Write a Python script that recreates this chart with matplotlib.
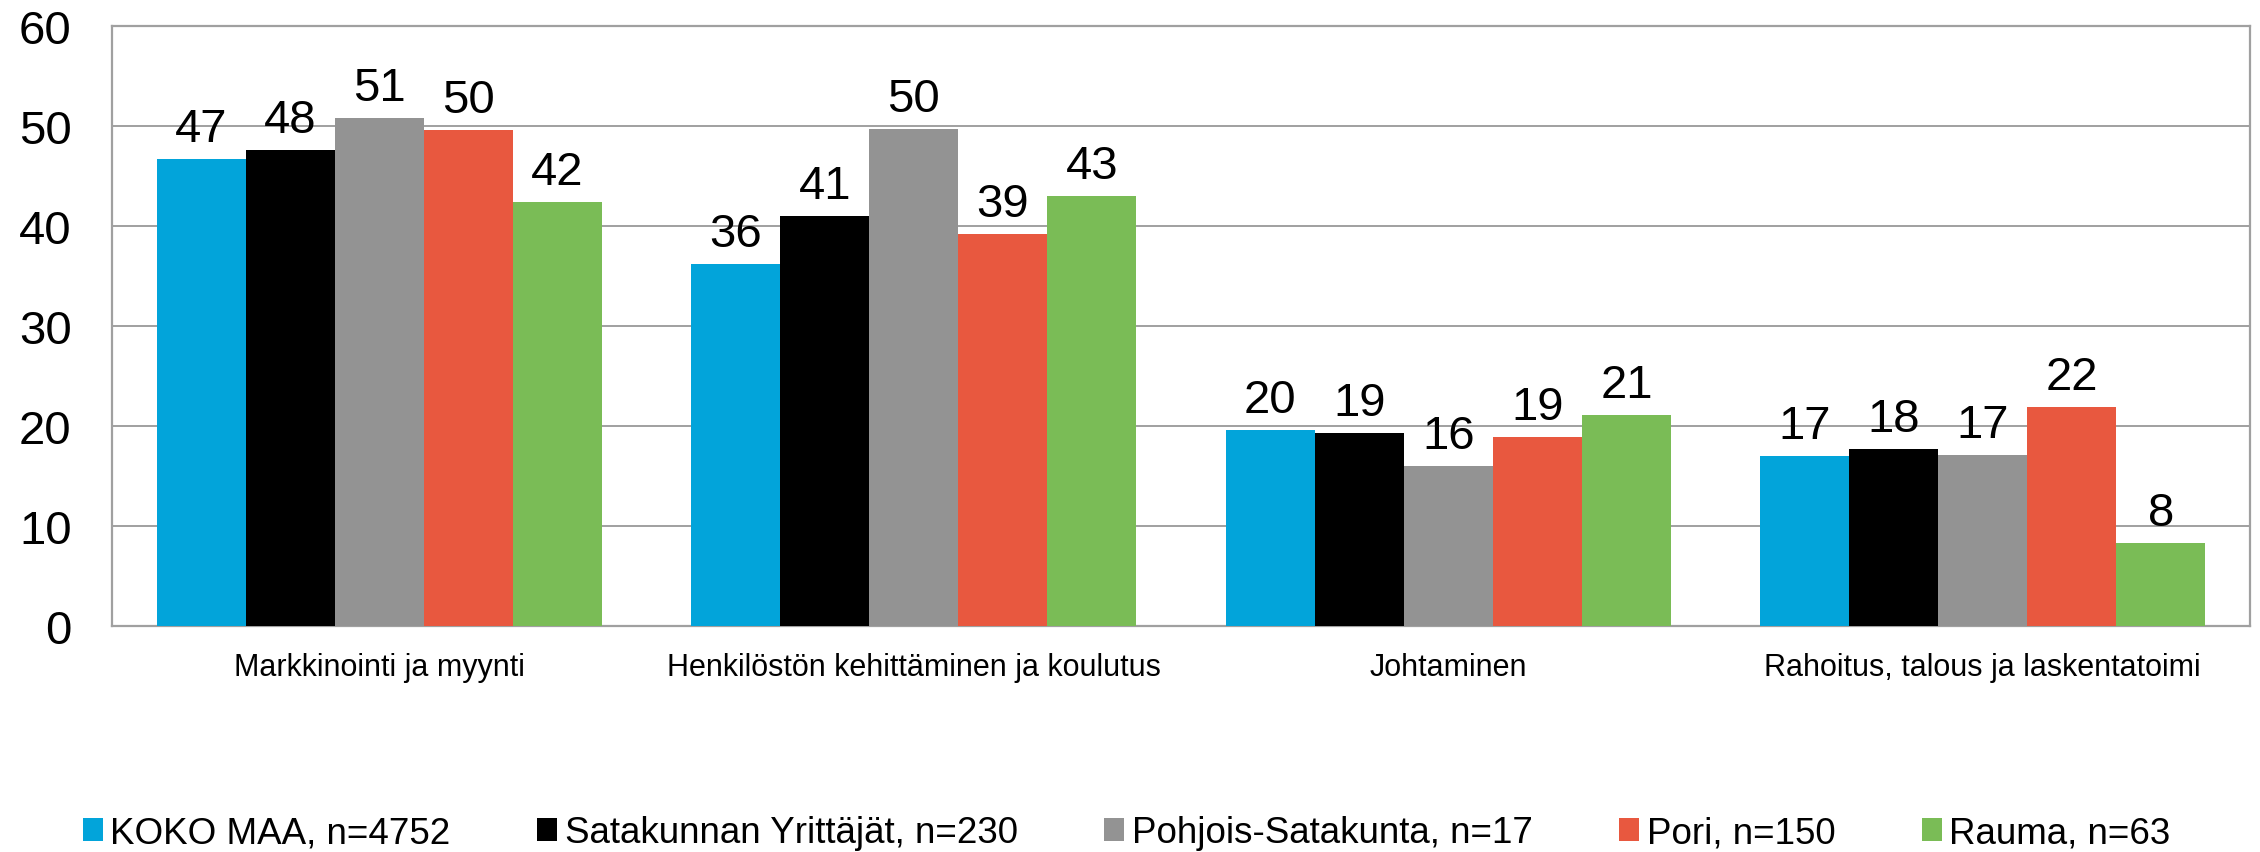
import matplotlib
matplotlib.use("Agg")
import matplotlib.pyplot as plt
import numpy as np
from matplotlib.patches import Patch

plt.rcParams["font.family"] = ["Liberation Sans", "DejaVu Sans"]

categories = [
    "Markkinointi ja myynti",
    "Henkilöstön kehittäminen ja koulutus",
    "Johtaminen",
    "Rahoitus, talous ja laskentatoimi",
]
series_names = [
    "KOKO MAA, n=4752",
    "Satakunnan Yrittäjät, n=230",
    "Pohjois-Satakunta, n=17",
    "Pori, n=150",
    "Rauma, n=63",
]
koko_maa = [46.7, 36.2, 19.6, 17.0]
satakunnan_yrittajat = [47.6, 41.0, 19.3, 17.7]
pohjois_satakunta = [50.8, 49.7, 16.0, 17.1]
pori = [49.6, 39.2, 18.9, 21.9]
rauma = [42.4, 43.0, 21.1, 8.3]
y_ticks = [0, 10, 20, 30, 40, 50, 60]

series = [koko_maa, satakunnan_yrittajat, pohjois_satakunta, pori, rauma]
colors = ["#02A4DA", "#000000", "#939393", "#E8583F", "#7ABC56"]
grid_col = "#A0A0A0"

fig = plt.figure(figsize=(22.6, 8.53), dpi=100)
ax = fig.add_axes([112 / 2260, 1 - 627 / 853, (2250 - 112) / 2260, 600 / 853])

x = np.arange(len(categories))
w = 1 / 6
for i, (vals, col) in enumerate(zip(series, colors)):
    bars = ax.bar(x + (i - 2) * w, vals, width=w, color=col, zorder=3)
    ax.bar_label(bars, fmt="%.0f", padding=6, fontsize=34, color="black")

ax.set_xlim(-0.5, len(categories) - 0.5)
ax.set_ylim(0, 60)
ax.set_yticks(y_ticks)
ax.set_xticks(x)
ax.set_xticklabels(categories, fontsize=22)
ax.tick_params(axis="y", length=0, pad=29, labelsize=34)
ax.tick_params(axis="x", length=0, pad=19)
ax.yaxis.grid(True, color=grid_col, linewidth=1.4, zorder=0)
ax.set_axisbelow(True)
for sp in ax.spines.values():
    sp.set_color(grid_col)
    sp.set_linewidth(1.6)

handles = [Patch(facecolor=c, edgecolor="none") for c in colors]
fig.legend(handles, series_names, loc="center", bbox_to_anchor=(0.4985, 1 - 834 / 853),
           ncol=5, frameon=False, fontsize=26.5, handlelength=0.55, handleheight=0.55,
           handletextpad=0.2, columnspacing=2.35, borderaxespad=0)

fig.savefig("out.png", dpi=100)
